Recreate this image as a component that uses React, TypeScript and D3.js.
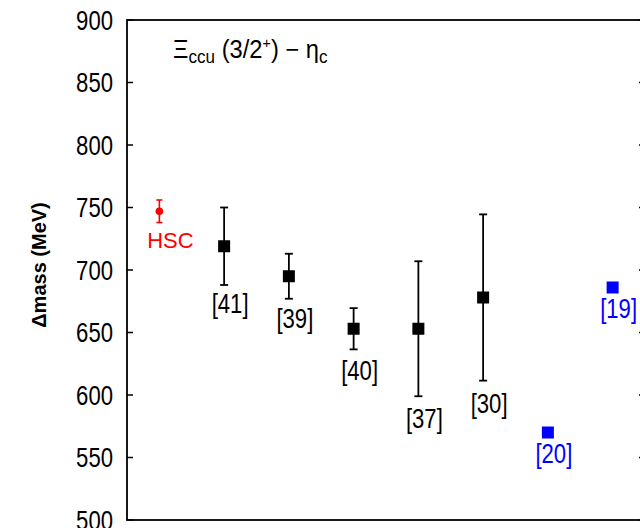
import React from "react";
import * as d3 from "d3";

// one column per result, left to right
const labels = ["HSC", "[41]", "[39]", "[40]", "[37]", "[30]", "[20]", "[19]"];
const masses = [747, 719, 695, 653, 653, 678, 570, 686];
const errors = [9, 31, 18, 16.5, 54, 66.5, 0, 0];
const groups = ["hsc", "other", "other", "other", "other", "other", "blue", "blue"];
// where each label's baseline sits, in MeV
const labelAt = [718, 666, 654, 612, 574, 586, 546, 662];
const yTicks = [500, 550, 600, 650, 700, 750, 800, 850, 900];

const colors: Record<string, string> = { hsc: "#ff0000", other: "#000000", blue: "#0000ff" };
const font = "'Liberation Sans', Arial, Helvetica, sans-serif";

const W = 640;
const H = 528;
const left = 127;
const right = 645;
const top = 20;
const bottom = 520;

export default function App() {
  const x = d3.scaleBand<string>().domain(labels).range([left, right]);
  const y = d3.scaleLinear().domain([500, 900]).range([bottom, top]);
  const cx = (i: number) => (x(labels[i]) as number) + x.bandwidth() / 2;
  const squeeze = 0.82;

  return (
    <svg width={W} height={H} style={{ position: "absolute", left: 0, top: 0, background: "#fff" }}>
      {/* frame */}
      <rect x={left} y={top} width={right - left} height={bottom - top} fill="none" stroke="#000" strokeWidth={1.8} />
      {yTicks.map((t) => (
        <g key={t}>
          <line x1={left} x2={left + 6} y1={y(t)} y2={y(t)} stroke="#000" strokeWidth={1.5} />
          <line x1={right - 6} x2={right} y1={y(t)} y2={y(t)} stroke="#000" strokeWidth={1.5} />
          <text
            transform={`translate(113,${y(t) + 9.6}) scale(${squeeze},1)`}
            textAnchor="end"
            fontFamily={font}
            fontSize={27}
            fill="#000"
          >
            {t}
          </text>
        </g>
      ))}
      <text
        transform={`translate(46,265) rotate(-90)`}
        textAnchor="middle"
        fontFamily={font}
        fontSize={20}
        fontWeight="bold"
        fill="#000"
      >
        Δmass (MeV)
      </text>

      {/* title */}
      <text transform={`translate(173,58) scale(0.95,1)`} fontFamily={font} fontSize={25} fill="#000">
        <tspan>Ξ</tspan>
        <tspan fontSize={18} dy={5}>ccu</tspan>
        <tspan dy={-5}> (3/2</tspan>
        <tspan fontSize={15} dy={-10}>+</tspan>
        <tspan dy={10}>) − η</tspan>
        <tspan fontSize={18} dy={5}>c</tspan>
      </text>

      {labels.map((lab, i) => {
        const c = colors[groups[i]];
        const px = cx(i);
        const py = y(masses[i]);
        const err = errors[i];
        const cap = groups[i] === "hsc" ? 3 : 4;
        return (
          <g key={lab}>
            {err > 0 && (
              <g stroke={c} strokeWidth={groups[i] === "hsc" ? 1.6 : 1.8}>
                <line x1={px} x2={px} y1={y(masses[i] + err)} y2={y(masses[i] - err)} />
                <line x1={px - cap} x2={px + cap} y1={y(masses[i] + err)} y2={y(masses[i] + err)} />
                <line x1={px - cap} x2={px + cap} y1={y(masses[i] - err)} y2={y(masses[i] - err)} />
              </g>
            )}
            {groups[i] === "hsc" ? (
              <circle cx={px} cy={py} r={3.8} fill={c} />
            ) : (
              <rect x={px - 6} y={py - 6} width={12} height={12} fill={c} />
            )}
            {groups[i] === "hsc" ? (
              <text x={px + 11} y={y(labelAt[i])} textAnchor="middle" fontFamily={font} fontSize={22} fill={c}>
                {lab}
              </text>
            ) : (
              <text
                transform={`translate(${px + 6},${y(labelAt[i])}) scale(${squeeze},1)`}
                textAnchor="middle"
                fontFamily={font}
                fontSize={27}
                fill={c}
              >
                {lab}
              </text>
            )}
          </g>
        );
      })}
    </svg>
  );
}
